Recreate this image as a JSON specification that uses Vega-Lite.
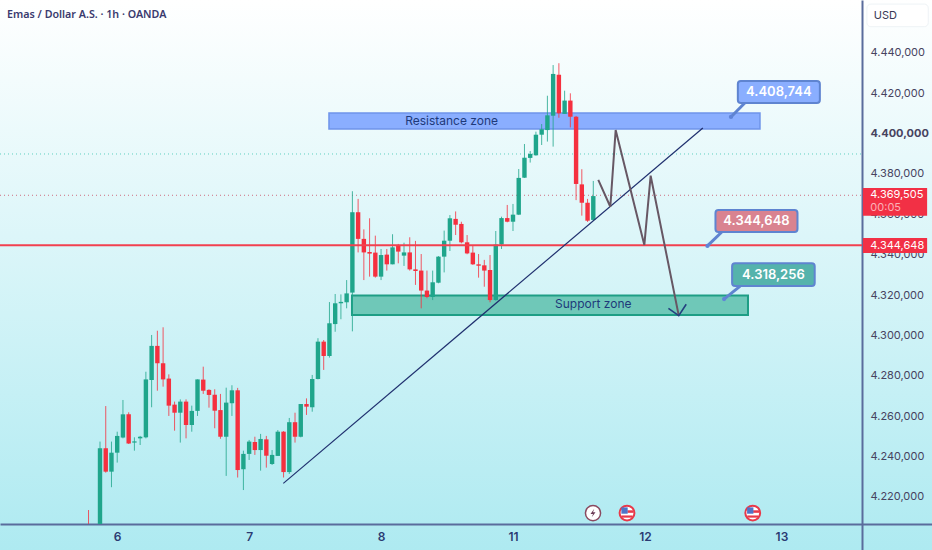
{
  "$schema": "https://vega.github.io/schema/vega-lite/v6.json",
  "width": 932,
  "height": 550,
  "padding": 0,
  "autosize": "none",
  "background": "#b0ebf2",
  "view": {
    "stroke": null,
    "fill": {"gradient": "linear", "x1": 0, "y1": 0, "x2": 0, "y2": 1, "stops": [{"offset": 0, "color": "#ffffff"}, {"offset": 1, "color": "#aeeaf1"}]}
  },
  "config": {"font": "Inter"},
  "datasets": {
    "candles": [
      {"i": -2, "o": 4206.6, "h": 4213.5, "l": 4206.6, "c": 4206.6, "dir": "down"},
      {"i": 0, "o": 4206.6, "h": 4247.4, "l": 4206.6, "c": 4244.1, "dir": "up"},
      {"i": 1, "o": 4244.1, "h": 4265.0, "l": 4232.0, "c": 4232.5, "dir": "down"},
      {"i": 2, "o": 4232.5, "h": 4247.4, "l": 4224.8, "c": 4241.9, "dir": "up"},
      {"i": 3, "o": 4241.9, "h": 4252.3, "l": 4237.0, "c": 4250.2, "dir": "up"},
      {"i": 4, "o": 4249.4, "h": 4268.0, "l": 4249.0, "c": 4260.9, "dir": "up"},
      {"i": 5, "o": 4260.9, "h": 4261.9, "l": 4246.2, "c": 4246.5, "dir": "down"},
      {"i": 6, "o": 4246.9, "h": 4249.5, "l": 4242.9, "c": 4247.5, "dir": "up"},
      {"i": 7, "o": 4249.0, "h": 4250.2, "l": 4245.7, "c": 4249.8, "dir": "up"},
      {"i": 8, "o": 4249.5, "h": 4282.0, "l": 4249.0, "c": 4278.2, "dir": "up"},
      {"i": 9, "o": 4277.9, "h": 4300.2, "l": 4264.4, "c": 4294.8, "dir": "up"},
      {"i": 10, "o": 4294.8, "h": 4302.3, "l": 4272.6, "c": 4286.2, "dir": "down"},
      {"i": 11, "o": 4286.2, "h": 4304.0, "l": 4274.6, "c": 4278.2, "dir": "down"},
      {"i": 12, "o": 4278.6, "h": 4280.7, "l": 4260.1, "c": 4265.2, "dir": "down"},
      {"i": 13, "o": 4265.7, "h": 4267.2, "l": 4252.8, "c": 4261.7, "dir": "down"},
      {"i": 14, "o": 4261.7, "h": 4268.3, "l": 4246.9, "c": 4267.2, "dir": "up"},
      {"i": 15, "o": 4267.2, "h": 4268.3, "l": 4249.0, "c": 4255.6, "dir": "down"},
      {"i": 16, "o": 4255.6, "h": 4265.2, "l": 4252.3, "c": 4262.6, "dir": "up"},
      {"i": 17, "o": 4262.6, "h": 4278.2, "l": 4260.1, "c": 4278.2, "dir": "up"},
      {"i": 18, "o": 4278.1, "h": 4284.5, "l": 4271.0, "c": 4272.6, "dir": "down"},
      {"i": 19, "o": 4273.0, "h": 4273.3, "l": 4264.2, "c": 4270.5, "dir": "down"},
      {"i": 20, "o": 4270.6, "h": 4273.3, "l": 4254.0, "c": 4262.7, "dir": "down"},
      {"i": 21, "o": 4263.0, "h": 4271.0, "l": 4248.8, "c": 4249.8, "dir": "down"},
      {"i": 22, "o": 4249.8, "h": 4274.1, "l": 4230.4, "c": 4266.7, "dir": "up"},
      {"i": 23, "o": 4266.4, "h": 4275.3, "l": 4260.1, "c": 4272.8, "dir": "up"},
      {"i": 24, "o": 4272.8, "h": 4274.0, "l": 4229.6, "c": 4233.3, "dir": "down"},
      {"i": 25, "o": 4233.7, "h": 4242.9, "l": 4223.4, "c": 4241.3, "dir": "up"},
      {"i": 26, "o": 4241.3, "h": 4248.2, "l": 4238.3, "c": 4247.4, "dir": "up"},
      {"i": 27, "o": 4247.2, "h": 4249.8, "l": 4240.8, "c": 4243.2, "dir": "down"},
      {"i": 28, "o": 4243.2, "h": 4251.2, "l": 4233.0, "c": 4248.7, "dir": "up"},
      {"i": 29, "o": 4248.5, "h": 4250.2, "l": 4234.5, "c": 4240.4, "dir": "down"},
      {"i": 30, "o": 4236.3, "h": 4243.2, "l": 4235.8, "c": 4240.8, "dir": "up"},
      {"i": 31, "o": 4240.3, "h": 4253.1, "l": 4240.3, "c": 4252.3, "dir": "up"},
      {"i": 32, "o": 4252.3, "h": 4252.6, "l": 4229.6, "c": 4232.3, "dir": "down"},
      {"i": 33, "o": 4232.3, "h": 4259.1, "l": 4231.4, "c": 4257.0, "dir": "up"},
      {"i": 34, "o": 4257.0, "h": 4261.7, "l": 4246.9, "c": 4249.8, "dir": "down"},
      {"i": 35, "o": 4249.8, "h": 4266.0, "l": 4249.5, "c": 4266.0, "dir": "up"},
      {"i": 36, "o": 4266.0, "h": 4268.8, "l": 4260.6, "c": 4264.7, "dir": "down"},
      {"i": 37, "o": 4264.4, "h": 4280.4, "l": 4262.2, "c": 4278.4, "dir": "up"},
      {"i": 38, "o": 4278.4, "h": 4298.6, "l": 4278.2, "c": 4296.9, "dir": "up"},
      {"i": 39, "o": 4296.9, "h": 4297.7, "l": 4282.9, "c": 4289.8, "dir": "down"},
      {"i": 40, "o": 4289.8, "h": 4316.5, "l": 4289.0, "c": 4306.0, "dir": "up"},
      {"i": 41, "o": 4305.6, "h": 4320.5, "l": 4301.8, "c": 4315.9, "dir": "up"},
      {"i": 42, "o": 4315.9, "h": 4320.3, "l": 4308.0, "c": 4316.6, "dir": "up"},
      {"i": 43, "o": 4316.4, "h": 4327.4, "l": 4313.4, "c": 4320.8, "dir": "up"},
      {"i": 44, "o": 4321.2, "h": 4371.4, "l": 4302.0, "c": 4361.0, "dir": "up"},
      {"i": 45, "o": 4361.0, "h": 4367.6, "l": 4341.1, "c": 4347.8, "dir": "down"},
      {"i": 46, "o": 4347.8, "h": 4352.5, "l": 4327.4, "c": 4341.1, "dir": "down"},
      {"i": 47, "o": 4341.3, "h": 4358.0, "l": 4329.1, "c": 4340.5, "dir": "down"},
      {"i": 48, "o": 4341.0, "h": 4349.4, "l": 4328.6, "c": 4329.1, "dir": "down"},
      {"i": 49, "o": 4329.1, "h": 4342.8, "l": 4327.4, "c": 4339.8, "dir": "up"},
      {"i": 50, "o": 4340.0, "h": 4342.8, "l": 4332.1, "c": 4335.2, "dir": "down"},
      {"i": 51, "o": 4335.2, "h": 4350.1, "l": 4335.2, "c": 4343.6, "dir": "up"},
      {"i": 52, "o": 4344.3, "h": 4345.3, "l": 4335.7, "c": 4341.5, "dir": "down"},
      {"i": 53, "o": 4339.5, "h": 4345.9, "l": 4334.4, "c": 4341.1, "dir": "up"},
      {"i": 54, "o": 4341.1, "h": 4348.6, "l": 4332.1, "c": 4332.7, "dir": "down"},
      {"i": 55, "o": 4332.7, "h": 4346.8, "l": 4325.0, "c": 4331.9, "dir": "down"},
      {"i": 56, "o": 4332.1, "h": 4340.3, "l": 4313.4, "c": 4322.2, "dir": "down"},
      {"i": 57, "o": 4322.2, "h": 4332.1, "l": 4318.4, "c": 4319.0, "dir": "down"},
      {"i": 58, "o": 4319.0, "h": 4332.1, "l": 4317.5, "c": 4326.3, "dir": "up"},
      {"i": 59, "o": 4326.1, "h": 4339.3, "l": 4325.8, "c": 4339.0, "dir": "up"},
      {"i": 60, "o": 4339.0, "h": 4351.9, "l": 4331.2, "c": 4346.9, "dir": "up"},
      {"i": 61, "o": 4346.9, "h": 4359.6, "l": 4341.8, "c": 4358.0, "dir": "up"},
      {"i": 62, "o": 4357.7, "h": 4361.4, "l": 4349.7, "c": 4354.8, "dir": "down"},
      {"i": 63, "o": 4355.2, "h": 4356.3, "l": 4345.6, "c": 4346.1, "dir": "down"},
      {"i": 64, "o": 4346.1, "h": 4349.7, "l": 4340.2, "c": 4340.6, "dir": "down"},
      {"i": 65, "o": 4341.0, "h": 4344.3, "l": 4334.9, "c": 4335.2, "dir": "down"},
      {"i": 66, "o": 4335.2, "h": 4340.3, "l": 4328.6, "c": 4334.5, "dir": "down"},
      {"i": 67, "o": 4334.7, "h": 4337.4, "l": 4324.1, "c": 4332.1, "dir": "down"},
      {"i": 68, "o": 4332.4, "h": 4339.8, "l": 4316.4, "c": 4317.5, "dir": "down"},
      {"i": 69, "o": 4317.5, "h": 4351.7, "l": 4317.2, "c": 4345.0, "dir": "up"},
      {"i": 70, "o": 4345.0, "h": 4358.8, "l": 4342.8, "c": 4358.1, "dir": "up"},
      {"i": 71, "o": 4358.1, "h": 4364.6, "l": 4356.0, "c": 4356.3, "dir": "down"},
      {"i": 72, "o": 4356.3, "h": 4365.1, "l": 4351.7, "c": 4359.8, "dir": "up"},
      {"i": 73, "o": 4359.8, "h": 4382.4, "l": 4359.6, "c": 4378.0, "dir": "up"},
      {"i": 74, "o": 4378.1, "h": 4394.8, "l": 4378.0, "c": 4388.0, "dir": "up"},
      {"i": 75, "o": 4387.9, "h": 4391.3, "l": 4385.6, "c": 4389.9, "dir": "up"},
      {"i": 76, "o": 4389.2, "h": 4400.9, "l": 4389.0, "c": 4399.4, "dir": "up"},
      {"i": 77, "o": 4399.4, "h": 4404.7, "l": 4394.3, "c": 4402.1, "dir": "up"},
      {"i": 78, "o": 4401.7, "h": 4418.7, "l": 4396.0, "c": 4409.0, "dir": "up"},
      {"i": 79, "o": 4408.8, "h": 4433.9, "l": 4393.5, "c": 4429.5, "dir": "up"},
      {"i": 80, "o": 4429.1, "h": 4434.8, "l": 4407.8, "c": 4410.0, "dir": "down"},
      {"i": 81, "o": 4409.7, "h": 4421.2, "l": 4409.7, "c": 4416.3, "dir": "up"},
      {"i": 82, "o": 4416.3, "h": 4419.9, "l": 4403.0, "c": 4408.3, "dir": "down"},
      {"i": 83, "o": 4408.3, "h": 4408.7, "l": 4367.0, "c": 4375.0, "dir": "down"},
      {"i": 84, "o": 4374.8, "h": 4382.3, "l": 4359.3, "c": 4365.7, "dir": "down"},
      {"i": 85, "o": 4365.7, "h": 4367.6, "l": 4356.2, "c": 4356.8, "dir": "down"},
      {"i": 86, "o": 4357.2, "h": 4376.5, "l": 4356.7, "c": 4369.0, "dir": "up"}
    ],
    "trend": [
      {"i": 31.96, "p": 4226.7},
      {"i": 105.1, "p": 4402.7}
    ],
    "zigzag": [
      {"i": 86.87, "p": 4377.0},
      {"i": 88.97, "p": 4363.7},
      {"i": 89.9, "p": 4401.7},
      {"i": 94.9, "p": 4344.8},
      {"i": 96.0, "p": 4379.1},
      {"i": 100.9, "p": 4309.8}
    ],
    "arrowhead": [
      {"i": 99.1, "p": 4313.4},
      {"i": 100.9, "p": 4309.8},
      {"i": 102.2, "p": 4315.4}
    ],
    "callouts": [
      {"name": "res", "i0": 111.2, "i1": 125.5, "p0": 4415.1, "p1": 4426.0, "ti": 118.35, "tp": 4420.6, "ptrI0": 112.4, "ptrP0": 4415.1, "ptrI1": 110.0, "ptrP1": 4408.2, "label": "4.408,744"},
      {"name": "mid", "i0": 107.3, "i1": 121.6, "p0": 4351.2, "p1": 4362.1, "ti": 114.45, "tp": 4356.7, "ptrI0": 108.4, "ptrP0": 4351.2, "ptrI1": 105.9, "ptrP1": 4344.3, "label": "4.344,648"},
      {"name": "sup", "i0": 110.2, "i1": 124.6, "p0": 4324.4, "p1": 4335.7, "ti": 117.4, "tp": 4330.1, "ptrI0": 111.6, "ptrP0": 4324.4, "ptrI1": 108.8, "ptrP1": 4318.0, "label": "4.318,256"}
    ],
    "events": [
      {"i": 91.88, "p": 4212.0},
      {"i": 113.8, "p": 4212.0}
    ]
  },
  "encoding": {
    "x": {
      "field": "i",
      "type": "quantitative",
      "scale": {"domain": [-17.434, 145.05], "nice": false, "zero": false, "padding": 0},
      "axis": {
        "title": null,
        "orient": "bottom",
        "offset": -26,
        "grid": false,
        "ticks": false,
        "values": [3, 26, 49, 72, 95, 118.8],
        "labelExpr": "datum.value < 4 ? '6' : datum.value < 27 ? '7' : datum.value < 50 ? '8' : datum.value < 73 ? '11' : datum.value < 96 ? '12' : '13'",
        "labelFontSize": 12,
        "labelFontWeight": 600,
        "labelColor": "#2b3a72",
        "labelPadding": 7,
        "domainColor": "#5a6c9c",
        "domainWidth": 2
      }
    },
    "y": {
      "field": "p",
      "type": "quantitative",
      "scale": {"domain": [4193.7, 4466.12], "nice": false, "zero": false},
      "axis": {
        "title": null,
        "orient": "right",
        "offset": -70,
        "grid": false,
        "ticks": false,
        "values": [4220, 4240, 4260, 4280, 4300, 4320, 4340, 4360, 4380, 4400, 4420, 4440],
        "labelExpr": "'4.' + format(datum.value - 4000, '03d') + ',000'",
        "labelFontSize": 11,
        "labelFontWeight": {"condition": {"test": "datum.value == 4400", "value": "bold"}, "value": "normal"},
        "labelColor": "#47435f",
        "labelPadding": 8,
        "domainColor": "#5a6c9c",
        "domainWidth": 2
      }
    }
  },
  "layer": [
    {
      "data": {"values": [{"p": 4389.85, "i0": -17.434, "i1": 132.84}]},
      "mark": {"type": "rule", "color": "#5fcfc0", "strokeDash": [1, 3], "strokeWidth": 1},
      "encoding": {"x": {"field": "i0", "type": "quantitative"}, "x2": {"field": "i1"}, "y": {"field": "p", "type": "quantitative"}}
    },
    {
      "data": {"values": [{"p": 4369.4, "i0": -17.434, "i1": 132.84}]},
      "mark": {"type": "rule", "color": "#cf6d80", "strokeDash": [1, 3], "strokeWidth": 1},
      "encoding": {"x": {"field": "i0", "type": "quantitative"}, "x2": {"field": "i1"}, "y": {"field": "p", "type": "quantitative"}}
    },
    {
      "data": {"values": [{"name": "Resistance zone", "i0": 39.92, "i1": 115.06, "p0": 4402.2, "p1": 4410.15}]},
      "mark": {"type": "rect", "fill": "#8aaeff", "stroke": "#6f94ea", "strokeWidth": 1.5},
      "encoding": {"x": {"field": "i0", "type": "quantitative"}, "x2": {"field": "i1"}, "y": {"field": "p0", "type": "quantitative"}, "y2": {"field": "p1"}}
    },
    {
      "data": {"values": [{"name": "Support zone", "i0": 43.93, "i1": 112.97, "p0": 4310.1, "p1": 4319.7}]},
      "mark": {"type": "rect", "fill": "#6fc8b8", "stroke": "#1e9e85", "strokeWidth": 2},
      "encoding": {"x": {"field": "i0", "type": "quantitative"}, "x2": {"field": "i1"}, "y": {"field": "p0", "type": "quantitative"}, "y2": {"field": "p1"}}
    },
    {
      "data": {"name": "candles"},
      "mark": {"type": "rule", "strokeWidth": 1, "opacity": 0.8},
      "encoding": {
        "y": {"field": "l", "type": "quantitative"},
        "y2": {"field": "h"},
        "color": {"field": "dir", "type": "nominal", "legend": null, "scale": {"domain": ["up", "down"], "range": ["#1fa58b", "#f5303f"]}}
      }
    },
    {
      "data": {"name": "candles"},
      "mark": {"type": "bar", "size": 4.4},
      "encoding": {
        "y": {"field": "o", "type": "quantitative"},
        "y2": {"field": "c"},
        "color": {"field": "dir", "type": "nominal", "legend": null, "scale": {"domain": ["up", "down"], "range": ["#1fa58b", "#f5303f"]}}
      }
    },
    {
      "data": {"values": [{"p": 4344.648, "i0": -17.434, "i1": 132.84}]},
      "mark": {"type": "rule", "color": "#f2404f", "strokeWidth": 2},
      "encoding": {"x": {"field": "i0", "type": "quantitative"}, "x2": {"field": "i1"}, "y": {"field": "p", "type": "quantitative"}}
    },
    {
      "data": {"name": "trend"},
      "mark": {"type": "line", "color": "#1f2f6e", "strokeWidth": 1.2},
      "encoding": {}
    },
    {
      "data": {"name": "zigzag"},
      "mark": {"type": "line", "color": "#675764", "strokeWidth": 2},
      "encoding": {}
    },
    {
      "data": {"name": "arrowhead"},
      "mark": {"type": "line", "color": "#24407f", "strokeWidth": 1.6},
      "encoding": {}
    },
    {
      "data": {"values": [{"t": "Resistance zone", "i": 61.3, "p": 4406.3}, {"t": "Support zone", "i": 86, "p": 4315.3}]},
      "mark": {"type": "text", "color": "#1e3a7a", "fontSize": 12},
      "encoding": {"text": {"field": "t"}}
    },
    {
      "data": {"name": "callouts"},
      "mark": {"type": "rule", "strokeWidth": 3, "color": "#5f84d0"},
      "encoding": {
        "x": {"field": "ptrI0", "type": "quantitative"},
        "x2": {"field": "ptrI1"},
        "y": {"field": "ptrP0", "type": "quantitative"},
        "y2": {"field": "ptrP1"}
      }
    },
    {
      "data": {"name": "callouts"},
      "mark": {"type": "point", "filled": true, "size": 18, "color": "#5f84d8", "opacity": 1},
      "encoding": {"x": {"field": "ptrI1", "type": "quantitative"}, "y": {"field": "ptrP1", "type": "quantitative"}}
    },
    {
      "data": {"name": "callouts"},
      "mark": {"type": "rect", "stroke": "#5f84d0", "strokeWidth": 2, "cornerRadius": 3},
      "encoding": {
        "x": {"field": "i0", "type": "quantitative"},
        "x2": {"field": "i1"},
        "y": {"field": "p0", "type": "quantitative"},
        "y2": {"field": "p1"},
        "fill": {"field": "name", "type": "nominal", "legend": null, "scale": {"domain": ["res", "mid", "sup"], "range": ["#8aaeff", "#d98390", "#55b3ac"]}}
      }
    },
    {
      "data": {"name": "callouts"},
      "mark": {"type": "text", "color": "#ffffff", "fontSize": 13, "fontWeight": 600},
      "encoding": {
        "x": {"field": "ti", "type": "quantitative"},
        "y": {"field": "tp", "type": "quantitative"},
        "text": {"field": "label"}
      }
    },
    {
      "data": {"values": [{"i0": 133.0, "i1": 144.2, "p0": 4359.3, "p1": 4373.0}, {"i0": 133.0, "i1": 144.2, "p0": 4340.8, "p1": 4348.2}]},
      "mark": {"type": "rect", "fill": "#f23045"},
      "encoding": {"x": {"field": "i0", "type": "quantitative"}, "x2": {"field": "i1"}, "y": {"field": "p0", "type": "quantitative"}, "y2": {"field": "p1"}}
    },
    {
      "data": {"values": [{"t": "4.369,505", "i": 134.3, "p": 4369.3}, {"t": "4.344,648", "i": 134.3, "p": 4344.5}]},
      "mark": {"type": "text", "align": "left", "color": "#ffffff", "fontSize": 11},
      "encoding": {"text": {"field": "t"}}
    },
    {
      "data": {"values": [{"t": "00:05", "i": 134.3, "p": 4363.1}]},
      "mark": {"type": "text", "align": "left", "color": "#fbb0b8", "fontSize": 11},
      "encoding": {"text": {"field": "t"}}
    },
    {
      "data": {"values": [{"i0": 133.7, "i1": 144.4, "p0": 4452.9, "p1": 4464.1}]},
      "mark": {"type": "rect", "fill": "#ffffff", "stroke": "#eef3f6", "cornerRadius": 4},
      "encoding": {"x": {"field": "i0", "type": "quantitative"}, "x2": {"field": "i1"}, "y": {"field": "p0", "type": "quantitative"}, "y2": {"field": "p1"}}
    },
    {
      "data": {"values": [{"t": "USD", "i": 134.9, "p": 4458.4}]},
      "mark": {"type": "text", "align": "left", "color": "#3a3a55", "fontSize": 11},
      "encoding": {"text": {"field": "t"}}
    },
    {
      "data": {"values": [{"t": "Emas / Dollar A.S. · 1h · OANDA", "i": -16.2, "p": 4458.7}]},
      "mark": {"type": "text", "align": "left", "color": "#3a3a6e", "fontSize": 10.7, "fontWeight": 600, "font": "Noto Sans"},
      "encoding": {"text": {"field": "t"}}
    },
    {
      "data": {"values": [{"i": 85.95, "p": 4212.0}]},
      "mark": {"type": "point", "filled": true, "fill": "#ffffff", "stroke": "#8a4a60", "strokeWidth": 1.5, "opacity": 1, "size": 230},
      "encoding": {}
    },
    {
      "data": {"values": [{"i": 85.95, "p": 4212.0}]},
      "mark": {"type": "point", "filled": true, "color": "#6a3a55", "opacity": 1, "size": 70, "shape": "M0.3,-1L-0.6,0.2H0L-0.3,1L0.6,-0.2H0Z"},
      "encoding": {}
    },
    {
      "data": {"name": "events"},
      "mark": {"type": "point", "filled": true, "fill": "#ffffff", "stroke": "#e8394a", "strokeWidth": 2, "opacity": 1, "size": 220},
      "encoding": {}
    },
    {
      "data": {"name": "events"},
      "mark": {"type": "point", "filled": true, "color": "#e8394a", "opacity": 1, "size": 120, "yOffset": 3.5, "shape": "M-1,-0.2H1V0.2H-1Z"},
      "encoding": {}
    },
    {
      "data": {"name": "events"},
      "mark": {"type": "point", "filled": true, "color": "#e8394a", "opacity": 1, "size": 40, "xOffset": 3.5, "yOffset": -1.5, "shape": "M-1,-0.4H1V0.4H-1Z"},
      "encoding": {}
    },
    {
      "data": {"name": "events"},
      "mark": {"type": "square", "color": "#4f74c8", "opacity": 1, "size": 40, "xOffset": -2.5, "yOffset": -2.5},
      "encoding": {}
    }
  ]
}
